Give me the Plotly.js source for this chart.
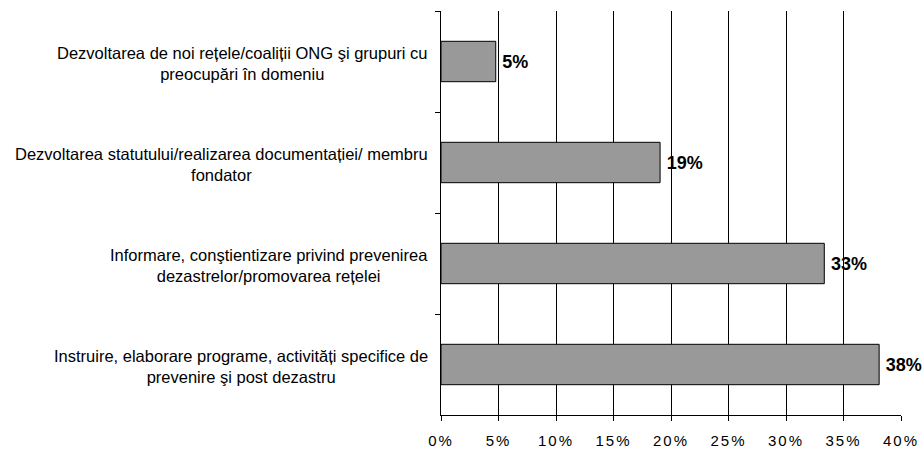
<!DOCTYPE html>
<html>
<head>
<meta charset="utf-8">
<script src="https://cdn.plot.ly/plotly-3.0.1.min.js"></script>
<style>
html,body{margin:0;padding:0;background:#fff;}
#chart{width:923px;height:449px;}
.xtick text{letter-spacing:2px;}
</style>
</head>
<body>
<div id="chart"></div>
<script>
const categories = [
  "Dezvoltarea de noi rețele/coaliții ONG şi grupuri cu<br>preocupări în domeniu",
  "Dezvoltarea statutului/realizarea documentației/ membru<br>fondator",
  "Informare, conştientizare privind prevenirea<br>dezastrelor/promovarea rețelei",
  "Instruire, elaborare programe, activități specifice de<br>prevenire şi post dezastru"
];
const values = [4.76, 19.05, 33.33, 38.10];
const tickVals = [0, 5, 10, 15, 20, 25, 30, 35, 40];
const tickText = ["0%", "5%", "10%", "15%", "20%", "25%", "30%", "35%", "40%"];

const ids = categories.map((c, i) => "c" + i);

const trace = {
  type: "bar",
  orientation: "h",
  x: values,
  y: ids,
  width: 0.4,
  marker: { color: "#999999", line: { color: "#000000", width: 1 } },
  text: values.map(v => "\u2009" + Math.round(v) + "%"),
  textposition: "outside",
  cliponaxis: false,
  textfont: { family: "Liberation Sans, Arial, sans-serif", size: 18, color: "#000", weight: "bold" },
  hoverinfo: "none"
};

const annotations = categories.map((c, i) => ({
  xref: "paper", yref: "y",
  x: -0.0239, y: ids[i],
  xanchor: "right", yanchor: "middle",
  align: "center",
  yshift: -2,
  text: c,
  showarrow: false,
  font: { family: "Liberation Sans, Arial, sans-serif", size: 16.5, color: "#000" }
}));

const layout = {
  width: 923, height: 449,
  margin: { l: 441, r: 22, t: 11, b: 34 },
  paper_bgcolor: "#fff", plot_bgcolor: "#fff",
  showlegend: false,
  xaxis: {
    range: [0, 40],
    tickvals: tickVals, ticktext: tickText,
    showgrid: true, gridcolor: "#000", gridwidth: 1,
    showline: true, linecolor: "#000", linewidth: 1,
    ticks: "outside", ticklen: 5, tickcolor: "#000",
    ticklabelstandoff: 7,
    zeroline: false,
    tickfont: { family: "Liberation Sans, Arial, sans-serif", size: 15, color: "#000" },
    fixedrange: true
  },
  yaxis: {
    type: "category",
    categoryorder: "array", categoryarray: ids,
    autorange: "reversed",
    showticklabels: false,
    showline: true, linecolor: "#000", linewidth: 1,
    ticks: "outside", ticklen: 5, tickcolor: "#000",
    tickson: "boundaries",
    showgrid: false, zeroline: false,
    fixedrange: true
  },
  annotations: annotations
};

Plotly.newPlot("chart", [trace], layout, { displayModeBar: false, staticPlot: true });
</script>
</body>
</html>
